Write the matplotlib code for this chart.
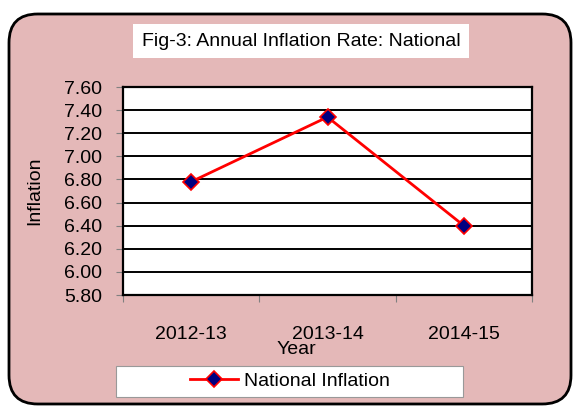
import matplotlib.pyplot as plt
from matplotlib.patches import FancyBboxPatch, Rectangle

years = ['2012-13', '2013-14', '2014-15']
inflation = [6.78, 7.34, 6.40]
y_ticks = [5.80, 6.00, 6.20, 6.40, 6.60, 6.80, 7.00, 7.20, 7.40, 7.60]

plt.rcParams['font.family'] = ['Liberation Sans', 'DejaVu Sans']
FS = 14

W, H = 575, 408
fig = plt.figure(figsize=(W / 100, H / 100), dpi=100)
fig.patch.set_facecolor('white')

# rounded pink background
bg = FancyBboxPatch((9 / W, 1 - 404 / H), 562 / W, 390 / H,
                    boxstyle='round,pad=0,rounding_size=0.05',
                    transform=fig.transFigure, facecolor='#E4B8B8',
                    edgecolor='black', linewidth=2, mutation_aspect=W / H,
                    zorder=-2)
fig.patches.append(bg)

# title box
fig.patches.append(Rectangle((133 / W, 1 - 58 / H), 336 / W, 34 / H,
                             transform=fig.transFigure, facecolor='white',
                             edgecolor='none', zorder=-1))
fig.text(301 / W, 1 - 41 / H, 'Fig-3: Annual Inflation Rate: National',
         ha='center', va='center', fontsize=FS)

ax = fig.add_axes([123 / W, 1 - 295 / H, 409 / W, 208 / H])
ax.set_zorder(2)
ax.set_facecolor('white')
x = list(range(1, len(years) + 1))
ax.plot(x, inflation, color='red', linewidth=2, marker='D', markersize=8,
        markerfacecolor='#000080', markeredgecolor='red', markeredgewidth=1.2,
        label='National Inflation', zorder=3)

ax.set_xlim(0.5, len(years) + 0.5)
ax.set_ylim(5.80, 7.60)
ax.set_yticks(y_ticks)
ax.set_yticklabels([f'{v:.2f}' for v in y_ticks], fontsize=FS)
ax.yaxis.grid(True, color='black', linewidth=1.4)
ax.set_axisbelow(True)

ax.set_xticks([i + 0.5 for i in range(0, len(years) + 1)])
ax.set_xticklabels([])
ax.set_xticks(x, minor=True)
ax.set_xticklabels(years, minor=True, fontsize=FS)
ax.tick_params(axis='x', which='minor', length=0, pad=22)
ax.tick_params(axis='x', which='major', length=5, color='gray')
ax.tick_params(axis='y', length=5, color='gray', pad=10)

for s in ax.spines.values():
    s.set_color('black')
    s.set_linewidth(1.6)

fig.text(296 / W, 1 - 350 / H, 'Year', ha='center', va='center', fontsize=FS)
fig.text(35 / W, 1 - 191 / H, 'Inflation', rotation=90, ha='center',
         va='center', fontsize=FS)

# legend box
fig.patches.append(Rectangle((116 / W, 1 - 397 / H), 347 / W, 31 / H,
                             transform=fig.transFigure, facecolor='white',
                             edgecolor='#999999', linewidth=0.8, zorder=-1))
fig.legend(loc='center', bbox_to_anchor=(290 / W, 1 - 381 / H),
           frameon=False, fontsize=FS, handlelength=2.5, handletextpad=0.3)

fig.savefig('out.png', dpi=100)
